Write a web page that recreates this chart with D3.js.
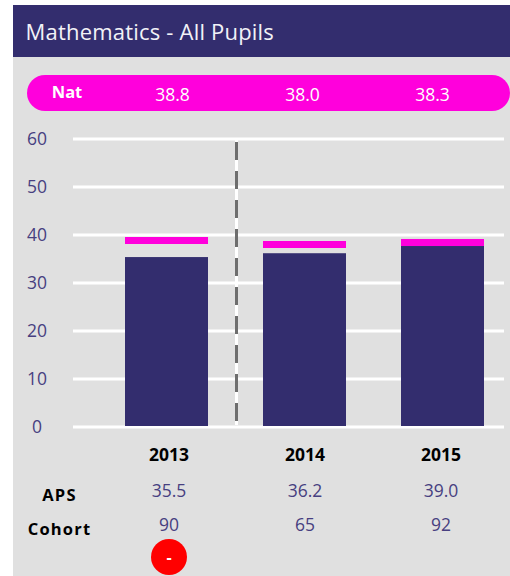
<!DOCTYPE html>
<html><head><meta charset="utf-8">
<script src="https://cdn.jsdelivr.net/npm/d3@7/dist/d3.min.js"></script>
<style>html,body{margin:0;padding:0;background:#fff}svg{display:block}text{font-family:"Open Sans",sans-serif}</style>
</head><body><svg id="c" width="510" height="576"></svg>
<script>
const title = "Mathematics - All Pupils";
const years = ["2013","2014","2015"];
const natValues = [38.8,38.0,38.3];
const barValues = [35.3,36.1,37.6];
const apsValues = ["35.5","36.2","39.0"];
const cohortValues = ["90","65","92"];
const yTicks = [0,10,20,30,40,50,60];
const statusRow = ["-",null,null];

const navy="#332d6e", magenta="#ff00dc", grey="#e0e0e0", tickCol="#473f80";
const svg=d3.select("#c");
svg.append("rect").attr("x",13).attr("y",5).attr("width",497).attr("height",571).attr("fill",grey);
svg.append("rect").attr("x",13).attr("y",5).attr("width",497).attr("height",52).attr("fill",navy);
svg.append("text").attr("x",25.5).attr("y",40).attr("fill","#f2f2f7").attr("font-size",22).attr("letter-spacing",0.2).text(title);

// National pill
svg.append("rect").attr("x",27).attr("y",75).attr("width",483).attr("height",36).attr("rx",18).attr("fill",magenta);
svg.append("text").attr("x",67).attr("y",98).attr("text-anchor","middle").attr("fill","#fff").attr("font-weight",700).attr("font-size",16.5).text("Nat");
const natScale=d3.scalePoint().domain(years).range([172.5,432.5]);
svg.selectAll(".nat").data(natValues).join("text").attr("x",(d,i)=>natScale(years[i])).attr("y",100.5).attr("text-anchor","middle").attr("fill","#fff").attr("font-size",17.5).text(d=>d.toFixed(1));

const y=d3.scaleLinear().domain([0,60]).range([426.5,138.5]);
const x=d3.scaleBand().domain(years).range([125,484]).paddingInner(55/138).paddingOuter(0);
const col=d3.scalePoint().domain(years).range([169,441]);

const axis=d3.axisLeft(y).tickValues(yTicks).tickSize(-431).tickPadding(0);
const g=svg.append("g").attr("transform","translate(73,0)").call(axis);
g.select(".domain").remove();
g.selectAll(".tick line").attr("stroke","#fff").attr("stroke-width",3);
g.selectAll(".tick text").attr("text-anchor","middle").attr("fill",tickCol).attr("font-size",17.5).attr("dy","0.36em").style("font-family",'"Open Sans",sans-serif');
g.selectAll(".tick").select("text").attr("x",-36);

svg.selectAll(".bar").data(barValues).join("rect").attr("x",(d,i)=>x(years[i])).attr("width",x.bandwidth()).attr("y",d=>y(d)).attr("height",d=>426-y(d)).attr("fill",navy);
svg.selectAll(".natm").data(natValues).join("rect").attr("x",(d,i)=>x(years[i])).attr("width",x.bandwidth()).attr("y",d=>Math.round(y(d)-3.5)).attr("height",7).attr("fill",magenta);

svg.append("line").attr("x1",236.5).attr("x2",236.5).attr("y1",140).attr("y2",425).attr("stroke","#fff").attr("stroke-width",3);
svg.append("line").attr("x1",236.5).attr("x2",236.5).attr("y1",142).attr("y2",422).attr("stroke","#6e6e6e").attr("stroke-width",3).attr("stroke-dasharray","18 11");

svg.selectAll(".yr").data(years).join("text").attr("x",d=>col(d)).attr("y",461).attr("text-anchor","middle").attr("fill","#000").attr("font-weight",700).attr("font-size",17.5).text(d=>d);
svg.selectAll(".aps").data(apsValues).join("text").attr("x",(d,i)=>col(years[i])).attr("y",497).attr("text-anchor","middle").attr("fill",tickCol).attr("font-size",17.5).text(d=>d);
svg.selectAll(".coh").data(cohortValues).join("text").attr("x",(d,i)=>col(years[i])).attr("y",530.5).attr("text-anchor","middle").attr("fill",tickCol).attr("font-size",17.5).text(d=>d);
svg.append("text").attr("x",59.5).attr("y",501).attr("text-anchor","middle").attr("font-weight",700).attr("font-size",16.5).attr("letter-spacing",1.2).text("APS");
svg.append("text").attr("x",59.5).attr("y",535).attr("text-anchor","middle").attr("font-weight",700).attr("font-size",16.5).attr("letter-spacing",1.2).text("Cohort");

statusRow.forEach((s,i)=>{ if(s===null) return;
 svg.append("circle").attr("cx",col(years[i])).attr("cy",557).attr("r",18).attr("fill","#ff0000");
 svg.append("text").attr("x",col(years[i])).attr("y",563).attr("text-anchor","middle").attr("fill","#fff").attr("font-weight",700).attr("font-size",16).text(s);
});
</script></body></html>
